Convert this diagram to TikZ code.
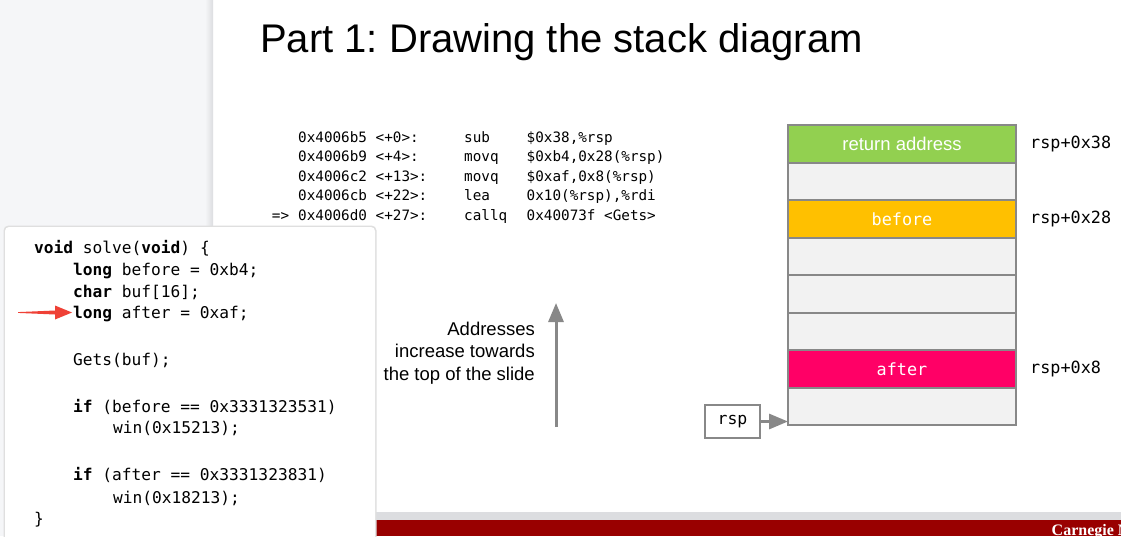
\documentclass[tikz,border=0pt]{standalone}
\usepackage{fontspec}
\setmainfont{Liberation Sans}
\setmonofont{DejaVu Sans Mono}
\newfontfamily\logofont{Liberation Serif}
\usepackage{xcolor}
\usetikzlibrary{positioning,arrows.meta}
\definecolor{panelgray}{HTML}{F5F6F8}
\definecolor{shadegray}{HTML}{DCDDE0}
\definecolor{cellgray}{HTML}{F2F2F2}
\definecolor{linegray}{HTML}{888888}
\definecolor{retgreen}{HTML}{92D050}
\definecolor{beforeyellow}{HTML}{FFC000}
\definecolor{afterpink}{HTML}{FF0066}
\definecolor{cmured}{HTML}{990000}
\definecolor{pointred}{HTML}{EF4136}
\frenchspacing

\begin{document}
\begin{tikzpicture}[x=1pt, y=-1pt, node distance=0pt,
    >={Triangle[length=19pt,width=15pt]},
    cell/.style={draw=linegray, line width=2pt, fill=cellgray, text=white,
      minimum width=228pt, minimum height=37.5pt, inner sep=0pt, outer sep=0pt},
    monocell/.style={font=\ttfamily\fontsize{16.8}{20}\selectfont},
    offs/.style={font=\ttfamily\fontsize{16.8}{20}\selectfont, inner sep=0pt, anchor=west},
    asm/.style={font=\ttfamily\fontsize{14.3}{17}\selectfont, inner sep=0pt, anchor=base west},
    src/.style={font=\ttfamily\fontsize{16.2}{19}\selectfont, inner sep=0pt, anchor=base west},
    ptr/.style={->, draw=linegray, line width=3pt},
  ]
    \useasboundingbox (0,0) rectangle (1121,536);
    \clip (0,0) rectangle (1121,536);

    % slide and side panel
    \fill[white] (0,0) rectangle (1121,536);
    \fill[panelgray] (0,0) rectangle (213,536);
    \shade[left color=panelgray, right color=shadegray] (205,0) rectangle (213,536);
    \fill[shadegray] (213,512) rectangle (1121,520);
    \fill[cmured] (213,520) rectangle (1121,536);
    \node[anchor=base west, inner sep=0pt, text=white, font=\logofont\bfseries\fontsize{16}{18}\selectfont] (logo) at (1051.5,535) {Carnegie M};

    \node[anchor=base west, inner sep=0pt, font=\fontsize{40}{48}\selectfont] (title) at (260,52) {Part 1: Drawing the stack diagram};

    % disassembly
    \node[asm] (addr1) at (298,142) {0x4006b5 <+0>:};
    \node[asm] (addr2) at (298,161.5) {0x4006b9 <+4>:};
    \node[asm] (addr3) at (298,181) {0x4006c2 <+13>:};
    \node[asm] (addr4) at (298,200.5) {0x4006cb <+22>:};
    \node[asm] (addr5) at (298,220) {0x4006d0 <+27>:};
    \node[asm] (cur) at (271.7,220) {=>};
    \node[asm] (op1) at (464,142) {sub};
    \node[asm] (op2) at (464,161.5) {movq};
    \node[asm] (op3) at (464,181) {movq};
    \node[asm] (op4) at (464,200.5) {lea};
    \node[asm] (op5) at (464,220) {callq};
    \node[asm] (arg1) at (526.5,142) {\$0x38,\%rsp};
    \node[asm] (arg2) at (526.5,161.5) {\$0xb4,0x28(\%rsp)};
    \node[asm] (arg3) at (526.5,181) {\$0xaf,0x8(\%rsp)};
    \node[asm] (arg4) at (526.5,200.5) {0x10(\%rsp),\%rdi};
    \node[asm] (arg5) at (526.5,220) {0x40073f <Gets>};

    % stack
    \node[cell, fill=retgreen, font=\fontsize{18.5}{22}\selectfont] (retaddr) at (902,143.75) {return address};
    \node[cell, below=of retaddr] (slot6) {};
    \node[cell, monocell, fill=beforeyellow, below=of slot6] (before) {before};
    \node[cell, below=of before] (slot4) {};
    \node[cell, below=of slot4] (slot3) {};
    \node[cell, below=of slot3] (slot2) {};
    \node[cell, monocell, fill=afterpink, below=of slot2] (after) {after};
    \node[cell, below=of after] (slot0) {};

    \node[offs, right=14pt of retaddr] (off38) {rsp+0x38};
    \node[offs, right=14pt of before] (off28) {rsp+0x28};
    \node[offs, right=14pt of after] (off8) {rsp+0x8};

    \node[draw=linegray, line width=2pt, minimum width=55pt, minimum height=33pt, inner sep=0pt,
      font=\ttfamily\fontsize{16.5}{20}\selectfont] (rsp) at (732.5,421.5) {rsp};
    \draw[ptr] (rsp) -- (rsp -| slot0.west);

    % direction of growth
    \coordinate (low) at (556,427);
    \coordinate (high) at (556,303);
    \draw[ptr] (low) -- (high);
    \node[align=right, anchor=east, inner sep=0pt, font=\fontsize{18.5}{22.5}\selectfont] (note) at (535,353)
      {Addresses\\increase towards\\the top of the slide};

    % source popup
    \fill[gray!25, rounded corners=5pt] (3.5,225.5) rectangle (376.5,545);
    \fill[white, rounded corners=4pt] (5,227) rectangle (375,545);
    \node[src] (line1) at (34,253) {\textbf{void} solve(\textbf{void}) \{};
    \node[src] (line2) at (73,275.5) {\textbf{long} before = 0xb4;};
    \node[src] (line3) at (73,297.5) {\textbf{char} buf[16];};
    \node[src] (line4) at (73,318) {\textbf{long} after = 0xaf;};
    \node[src] (line5) at (73,365.5) {Gets(buf);};
    \node[src] (line6) at (73,412) {\textbf{if} (before == 0x3331323531)};
    \node[src] (line7) at (113,433.5) {win(0x15213);};
    \node[src] (line8) at (73,480.5) {\textbf{if} (after == 0x3331323831)};
    \node[src] (line9) at (113,503) {win(0x18213);};
    \node[src] (line10) at (34,524.5) {\}};

    \coordinate (redtip) at (72,312.5);
    \fill[pointred] (redtip) -- ++(-17,-7) -- ++(0,5) -- ++(-37,1.6) -- ++(0,0.8)
      -- ++(37,1.6) -- ++(0,5) -- cycle;
\end{tikzpicture}
\end{document}
